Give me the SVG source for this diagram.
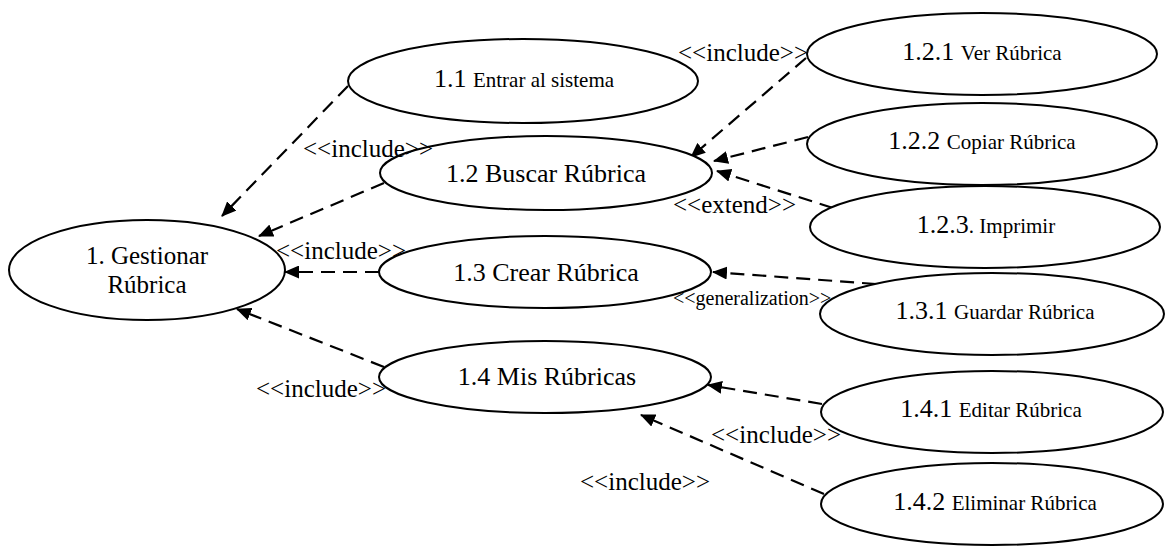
<svg xmlns="http://www.w3.org/2000/svg" width="1165" height="547" viewBox="0 0 1165 547">
<style>
.uc{fill:#fff;stroke:#000;stroke-width:2}
text{font-family:"Liberation Serif","Times New Roman",serif;fill:#000}
.t{font-size:26px;text-anchor:middle}
.s{font-size:21px}
.lb{font-size:25px}
.lg{font-size:20px}
.c{fill:none;stroke:#000;stroke-width:2.2;stroke-dasharray:14 8;marker-end:url(#ah)}
</style>
<defs>
<marker id="ah" viewBox="0 0 15 13" refX="14" refY="6.5" markerWidth="15" markerHeight="13" markerUnits="userSpaceOnUse" orient="auto">
<path d="M0,0 L15,6.5 L0,13 z" fill="#000"/>
</marker>
</defs>
<g id="connectors">
<path class="c" d="M348,86 L222,216"/>
<path class="c" d="M384,183 L259,236"/>
<path class="c" d="M379,272 L285,272"/>
<path class="c" d="M384,367 L237,309"/>
<path class="c" d="M806,58 L691,157"/>
<path class="c" d="M808,137 L714,161"/>
<path class="c" d="M833,208 L717,171"/>
<path class="c" d="M876,284 L713,272"/>
<path class="c" d="M822,404 L708,385"/>
<path class="c" d="M824,494 L641,415"/>
</g>
<g id="n1"><ellipse class="uc" cx="147" cy="270" rx="138" ry="50"/><text class="t" x="147" y="264" style="font-size:25px">1. Gestionar</text><text class="t" x="147" y="293" style="font-size:25px">Rúbrica</text></g>
<g id="n1_1"><ellipse class="uc" cx="523" cy="81" rx="175" ry="42"/><text class="t" x="524" y="87">1.1 <tspan class="s">Entrar al sistema</tspan></text></g>
<g id="n1_2"><ellipse class="uc" cx="546" cy="173" rx="166" ry="37"/><text class="t" x="546" y="182">1.2 Buscar Rúbrica</text></g>
<g id="n1_3"><ellipse class="uc" cx="545" cy="272" rx="166" ry="36"/><text class="t" x="546" y="281">1.3 Crear Rúbrica</text></g>
<g id="n1_4"><ellipse class="uc" cx="545" cy="377" rx="166" ry="36"/><text class="t" x="547" y="385">1.4 Mis Rúbricas</text></g>
<g id="n1_2_1"><ellipse class="uc" cx="982" cy="54" rx="175" ry="41"/><text class="t" x="982" y="60">1.2.1 <tspan class="s">Ver Rúbrica</tspan></text></g>
<g id="n1_2_2"><ellipse class="uc" cx="982" cy="144" rx="175" ry="41"/><text class="t" x="982" y="149">1.2.2 <tspan class="s">Copiar Rúbrica</tspan></text></g>
<g id="n1_2_3"><ellipse class="uc" cx="985" cy="227" rx="175" ry="41"/><text class="t" x="986" y="233">1.2.3<tspan class="s">. Imprimir</tspan></text></g>
<g id="n1_3_1"><ellipse class="uc" cx="992" cy="314" rx="172" ry="41"/><text class="t" x="995" y="319">1.3.1 <tspan class="s">Guardar Rúbrica</tspan></text></g>
<g id="n1_4_1"><ellipse class="uc" cx="992" cy="412" rx="171" ry="41"/><text class="t" x="991" y="417">1.4.1 <tspan class="s">Editar Rúbrica</tspan></text></g>
<g id="n1_4_2"><ellipse class="uc" cx="992" cy="504" rx="171" ry="41"/><text class="t" x="995" y="510">1.4.2 <tspan class="s">Eliminar Rúbrica</tspan></text></g>
<g id="labels">
<text class="lb" x="678" y="61">&lt;&lt;include&gt;&gt;</text>
<text class="lb" x="303" y="157">&lt;&lt;include&gt;&gt;</text>
<text class="lb" x="673" y="213">&lt;&lt;extend&gt;&gt;</text>
<text class="lb" x="276" y="259">&lt;&lt;include&gt;&gt;</text>
<text class="lg" x="673" y="305">&lt;&lt;generalization&gt;&gt;</text>
<text class="lb" x="256" y="397">&lt;&lt;include&gt;&gt;</text>
<text class="lb" x="711" y="443">&lt;&lt;include&gt;&gt;</text>
<text class="lb" x="580" y="490">&lt;&lt;include&gt;&gt;</text>
</g>
</svg>
